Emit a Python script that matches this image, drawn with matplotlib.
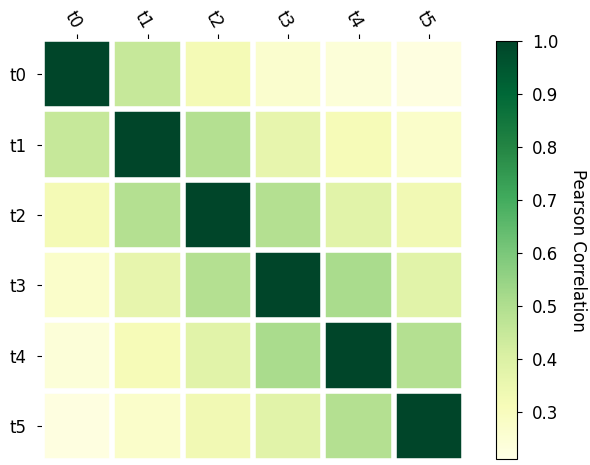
import numpy as np
import matplotlib
matplotlib.use("Agg")
import matplotlib.pyplot as plt

labels = ["t0", "t1", "t2", "t3", "t4", "t5"]

row_t0 = [1.00, 0.45, 0.32, 0.26, 0.24, 0.22]
row_t1 = [0.45, 1.00, 0.49, 0.36, 0.31, 0.27]
row_t2 = [0.32, 0.49, 1.00, 0.49, 0.38, 0.33]
row_t3 = [0.27, 0.36, 0.49, 1.00, 0.51, 0.38]
row_t4 = [0.24, 0.31, 0.38, 0.51, 1.00, 0.49]
row_t5 = [0.22, 0.27, 0.33, 0.38, 0.49, 1.00]

corr = np.array([row_t0, row_t1, row_t2, row_t3, row_t4, row_t5])

plt.rcParams["font.size"] = 12

fig = plt.figure(figsize=(5.9, 4.65), dpi=100)
ax = fig.add_axes([0.0715, 0.0086, 0.715, 0.9075])
cax = fig.add_axes([0.8407, 0.0123, 0.036, 0.900])

im = ax.imshow(corr, cmap="YlGn", vmin=0.21, vmax=1.0, aspect="auto")

cbar = fig.colorbar(im, cax=cax)
cbar.set_ticks([0.3, 0.4, 0.5, 0.6, 0.7, 0.8, 0.9, 1.0])
cbar.ax.tick_params(pad=7)
cbar.ax.set_ylabel("Pearson Correlation", rotation=-90, va="bottom", labelpad=8)

ax.set_xticks(np.arange(len(labels)))
ax.set_yticks(np.arange(len(labels)))
ax.set_xticklabels(labels)
ax.set_yticklabels(labels)

ax.tick_params(top=True, bottom=False, labeltop=True, labelbottom=False)
ax.tick_params(axis="y", pad=8)
ax.tick_params(axis="x", pad=5)
plt.setp(ax.get_xticklabels(), rotation=-60, ha="right", rotation_mode="anchor", va="center")

for s in ax.spines.values():
    s.set_visible(False)

# white separators between cells
for edge in np.arange(corr.shape[1] + 1) - .5:
    ax.axvline(edge, color="w", linewidth=4)
for edge in np.arange(corr.shape[0] + 1) - .5:
    ax.axhline(edge, color="w", linewidth=4)

fig.savefig("out.png", dpi=100)
